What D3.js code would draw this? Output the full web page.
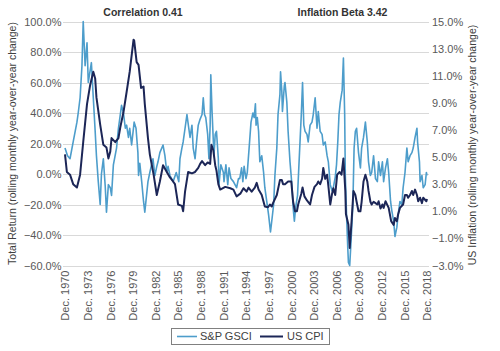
<!DOCTYPE html>
<html>
<head>
<meta charset="utf-8">
<script src="https://cdn.jsdelivr.net/npm/d3@7"></script>
<style>
  body { margin: 0; background: #fff; }
  svg { display: block; font-family: "Liberation Sans", Arial, sans-serif; }
</style>
</head>
<body>
<svg id="chart" width="500" height="351"></svg>
<script>
// ---- data ----
const gsciDates = ["1970-12","1971-04","1971-08","1972-01","1972-07","1972-09","1972-12","1973-03","1973-05","1973-08","1973-11","1974-01","1974-06","1974-09","1974-12","1975-02","1975-05","1975-08","1975-10","1976-01","1976-04","1976-06","1976-09","1976-12","1977-02","1977-05","1977-10","1978-01","1978-04","1978-06","1978-09","1978-12","1979-02","1979-05","1979-07","1979-10","1980-02","1980-05","1980-08","1980-09","1980-11","1981-02","1981-05","1981-07","1981-12","1982-03","1982-08","1982-11","1983-02","1983-04","1983-07","1983-12","1984-03","1984-06","1984-08","1984-11","1985-04","1985-09","1986-01","1986-03","1986-06","1986-08","1986-11","1987-02","1987-05","1987-07","1987-10","1987-12","1988-03","1988-06","1988-08","1988-11","1989-02","1989-04","1989-06","1989-08","1989-11","1990-01","1990-03","1990-04","1990-06","1990-09","1990-11","1991-01","1991-04","1991-05","1991-08","1991-12","1992-01","1992-04","1992-07","1992-09","1992-12","1993-04","1993-09","1993-12","1994-02","1994-05","1994-07","1994-09","1994-12","1995-02","1995-05","1995-08","1995-11","1996-01","1996-03","1996-04","1996-06","1996-08","1996-10","1997-01","1997-04","1997-06","1997-09","1997-12","1998-03","1998-05","1998-08","1998-10","1999-01","1999-03","1999-06","1999-07","1999-09","1999-10","2000-01","2000-02","2000-05","2000-07","2000-10","2001-01","2001-03","2001-05","2001-07","2001-10","2001-12","2002-04","2002-06","2002-08","2002-10","2003-01","2003-03","2003-06","2003-09","2003-11","2004-02","2004-05","2004-07","2004-10","2005-01","2005-03","2005-06","2005-09","2005-11","2006-02","2006-05","2006-07","2006-10","2006-12","2007-02","2007-04","2007-06","2007-09","2007-11","2008-01","2008-02","2008-04","2008-06","2008-07","2008-09","2008-11","2009-02","2009-04","2009-06","2009-08","2009-11","2010-02","2010-04","2010-07","2010-10","2011-01","2011-03","2011-06","2011-08","2011-11","2012-02","2012-05","2012-07","2012-10","2013-01","2013-03","2013-06","2013-09","2013-11","2014-02","2014-04","2014-07","2014-09","2014-12","2015-02","2015-05","2015-08","2015-10","2016-01","2016-04","2016-06","2016-09","2016-12","2017-02","2017-05","2017-08","2017-09","2017-12","2018-01","2018-04","2018-06","2018-09","2018-11","2018-12"];
const gsciValues = [17,12,10,21,34,40,50,71,100,71,86,60,73,50,28,12,-5,-20,0,10,-8,-25,-7,-9,-14,6,17,30,39,45,40,30,32,24,30,19,34,30,14,-1,7,-5,-18,-25,-5,1,10,-1,5,8,14,19,12,1,5,-1,-5,1,-5,10,17,21,30,39,30,24,32,17,10,24,32,36,39,50,39,37,26,10,32,65,41,12,26,28,10,-7,6,1,-5,6,-7,4,-3,-5,-9,-3,-3,4,-5,5,-3,1,17,34,40,37,46,32,37,28,8,12,1,-9,-18,-27,-38,-31,-20,-1,17,39,52,67,54,41,58,60,47,28,8,-7,-22,-31,-22,-14,4,39,60,32,28,26,21,32,34,39,50,30,41,28,26,19,21,12,8,-7,-11,-9,-2,6,21,39,47,55,76,39,-1,-27,-49,-58,-60,-45,-20,17,28,30,14,4,17,24,34,21,8,-1,1,12,-3,-5,8,-1,8,-5,4,10,1,-18,-24,-31,-41,-35,-27,-18,-20,-9,1,17,8,12,14,17,24,30,21,8,-5,-1,-9,-7,1,-1];

const cpiDates = ["1970-12","1971-03","1971-08","1972-01","1972-07","1972-12","1973-05","1973-11","1974-04","1974-09","1974-12","1975-02","1975-08","1976-01","1976-06","1976-09","1976-12","1977-02","1977-08","1978-01","1978-04","1978-09","1979-02","1979-07","1980-01","1980-02","1980-06","1980-09","1981-01","1981-05","1981-07","1981-12","1982-03","1982-09","1983-02","1983-07","1983-12","1984-06","1984-11","1985-04","1985-07","1985-12","1986-06","1986-08","1986-11","1987-04","1987-10","1988-03","1988-08","1988-11","1989-02","1989-07","1989-11","1990-03","1990-05","1990-08","1990-11","1991-01","1991-04","1991-07","1992-03","1992-11","1993-04","1993-09","1994-03","1994-08","1995-01","1995-04","1995-09","1996-02","1996-05","1996-08","1997-01","1997-06","1997-11","1998-02","1998-05","1998-07","1999-01","1999-06","1999-09","1999-11","2000-02","2000-07","2000-12","2001-03","2001-06","2001-09","2001-11","2002-04","2002-06","2002-09","2003-01","2003-06","2003-09","2004-01","2004-05","2004-07","2004-10","2005-01","2005-03","2005-06","2005-09","2005-11","2006-02","2006-05","2006-07","2006-10","2007-01","2007-05","2007-08","2007-11","2008-02","2008-03","2008-07","2008-09","2008-12","2009-03","2009-06","2009-08","2009-11","2010-02","2010-04","2010-07","2010-10","2011-01","2011-03","2011-06","2011-08","2011-11","2012-02","2012-05","2012-07","2012-10","2013-01","2013-03","2013-06","2013-11","2014-03","2014-07","2014-09","2014-12","2015-02","2015-05","2015-10","2016-01","2016-04","2016-06","2016-09","2016-12","2017-02","2017-05","2017-08","2017-10","2018-01","2018-04","2018-06","2018-11","2018-12"];
const cpiValues = [5.2,3.9,3.7,3.0,2.75,3.7,6.1,8.9,10.3,11.3,10.8,9.4,7.4,5.9,5.7,4.9,5.4,6.4,6.1,6.4,7.2,8.3,9.8,11.3,13.65,13.6,12.0,11.8,10.1,10.2,8.9,6.4,5.2,3.7,2.2,3.2,4.4,3.9,3.5,3.2,3.0,1.5,1.4,1.0,2.45,3.9,3.8,3.9,4.2,4.5,4.7,4.4,4.6,4.5,5.9,5.5,4.4,4.0,3.0,2.6,2.8,2.7,2.6,2.1,2.3,2.7,2.45,2.75,2.45,2.75,3.1,2.6,2.2,1.35,1.3,1.5,1.35,1.6,2.2,3.3,3.3,3.0,3.0,3.2,3.2,1.7,1.0,1.0,1.5,2.3,2.75,2.1,1.8,1.5,2.2,2.8,3.0,3.2,3.0,3.4,4.2,3.4,3.7,2.9,1.5,2.3,2.7,2.2,3.7,3.9,3.7,4.9,2.5,0.8,0.0,-1.7,0.3,2.5,2.2,1.7,1.0,1.0,1.7,3.2,3.7,3.2,2.5,1.7,1.5,1.7,1.6,1.5,1.74,1.2,1.5,1.25,1.74,1.25,0.27,0.0,0.5,0.27,0.76,1.25,1.5,2.2,2.2,2.0,2.2,2.5,2.2,2.6,2.2,1.74,2.0,1.6,2.0,1.74,1.9];

const xTickYears = [1970,1973,1976,1979,1982,1985,1988,1991,1994,1997,2000,2003,2006,2009,2012,2015,2018];
const leftTicks = [100,80,60,40,20,0,-20,-40,-60];
const rightTicks = [15,13,11,9,7,5,3,1,-1,-3];
const seriesNames = ["S&P GSCI","US CPI"];
const titles = ["Correlation 0.41","Inflation Beta 3.42"];
const leftTitle = "Total Return (rolling monthly year-over-year change)";
const rightTitle = "US Inflation (rolling monthly year-over-year change)";

// ---- drawing ----
const parse = d3.timeParse("%Y-%m");
const colors = { gsci: "#4d9dcb", cpi: "#1c2657" };
const svg = d3.select("#chart");

const plot = { left: 63, right: 429, top: 21.5, bottom: 265.5 };
const x = d3.scaleTime()
  .domain([parse("1970-12"), parse("2018-12")])
  .range([65, 427]);
const yL = d3.scaleLinear().domain([-60, 100]).range([plot.bottom, plot.top]);
const yR = d3.scaleLinear().domain([-3, 15]).range([plot.bottom, plot.top]);

// gridlines
svg.append("g").selectAll("line").data(leftTicks).join("line")
  .attr("x1", plot.left).attr("x2", plot.right)
  .attr("y1", d => Math.round(yL(d)) + 0.5).attr("y2", d => Math.round(yL(d)) + 0.5)
  .attr("stroke", "#d9d9d9").attr("stroke-width", 1);

// axes
const fmt = d3.format(".1f");
const axL = svg.append("g").attr("transform", `translate(${plot.left},0)`)
  .call(d3.axisLeft(yL).tickValues(leftTicks).tickSize(0).tickPadding(1.5).tickFormat(d => fmt(d) + "%"));
const axR = svg.append("g").attr("transform", `translate(${plot.right},0)`)
  .call(d3.axisRight(yR).tickValues(rightTicks).tickSize(0).tickPadding(3).tickFormat(d => fmt(d) + "%"));
const axB = svg.append("g").attr("transform", `translate(0,${plot.bottom})`)
  .call(d3.axisBottom(x).tickValues(xTickYears.map(y => parse(y + "-12"))).tickSize(0)
    .tickFormat(d => "Dec. " + d.getFullYear()));
[axL, axR, axB].forEach(a => {
  a.select(".domain").remove();
  a.selectAll("text").attr("fill", "#595959").style("font-size", "11px")
    .style("font-family", '"Liberation Sans", Arial, sans-serif');
});
axB.selectAll("text")
  .attr("transform", "rotate(-90)")
  .attr("text-anchor", "end")
  .attr("x", -5).attr("y", 0).attr("dy", "0.35em");

// lines
const gsciData = gsciDates.map((d, i) => ({ date: parse(d), v: gsciValues[i] }));
const cpiData = cpiDates.map((d, i) => ({ date: parse(d), v: cpiValues[i] }));
svg.append("path").datum(gsciData)
  .attr("fill", "none").attr("stroke", colors.gsci).attr("stroke-width", 1.6)
  .attr("stroke-linejoin", "round")
  .attr("d", d3.line().x(d => x(d.date)).y(d => yL(d.v)));
svg.append("path").datum(cpiData)
  .attr("fill", "none").attr("stroke", colors.cpi).attr("stroke-width", 2)
  .attr("stroke-linejoin", "round")
  .attr("d", d3.line().x(d => x(d.date)).y(d => yR(d.v)));

// titles
svg.append("text").attr("x", 143).attr("y", 16).attr("text-anchor", "middle")
  .attr("fill", "#333").style("font-size", "10.5px").style("font-weight", "bold").text(titles[0]);
svg.append("text").attr("x", 342.5).attr("y", 16).attr("text-anchor", "middle")
  .attr("fill", "#333").style("font-size", "10.5px").style("font-weight", "bold").text(titles[1]);

// axis titles
svg.append("text").attr("transform", "translate(12.5,143.5) rotate(-90)")
  .attr("text-anchor", "middle").attr("dy", "0.35em")
  .attr("fill", "#404040").style("font-size", "10.5px").text(leftTitle);
svg.append("text").attr("transform", "translate(472,145) rotate(-90)")
  .attr("text-anchor", "middle").attr("dy", "0.35em")
  .attr("fill", "#404040").style("font-size", "10.5px").text(rightTitle);

// legend
const lg = svg.append("g");
lg.append("rect").attr("x", 171.5).attr("y", 328.5).attr("width", 158).attr("height", 16)
  .attr("fill", "#fff").attr("stroke", "#808080").attr("stroke-width", 1);
const legendItems = [
  { name: seriesNames[0], color: colors.gsci, x1: 177, x2: 197, tx: 200, w: 1.6 },
  { name: seriesNames[1], color: colors.cpi, x1: 260, x2: 283, tx: 287, w: 2 }
];
legendItems.forEach(it => {
  lg.append("line").attr("x1", it.x1).attr("x2", it.x2).attr("y1", 336.5).attr("y2", 336.5)
    .attr("stroke", it.color).attr("stroke-width", it.w);
  lg.append("text").attr("x", it.tx).attr("y", 336.5).attr("dy", "0.35em")
    .attr("fill", "#404040").style("font-size", "11px").text(it.name);
});
</script>
</body>
</html>
